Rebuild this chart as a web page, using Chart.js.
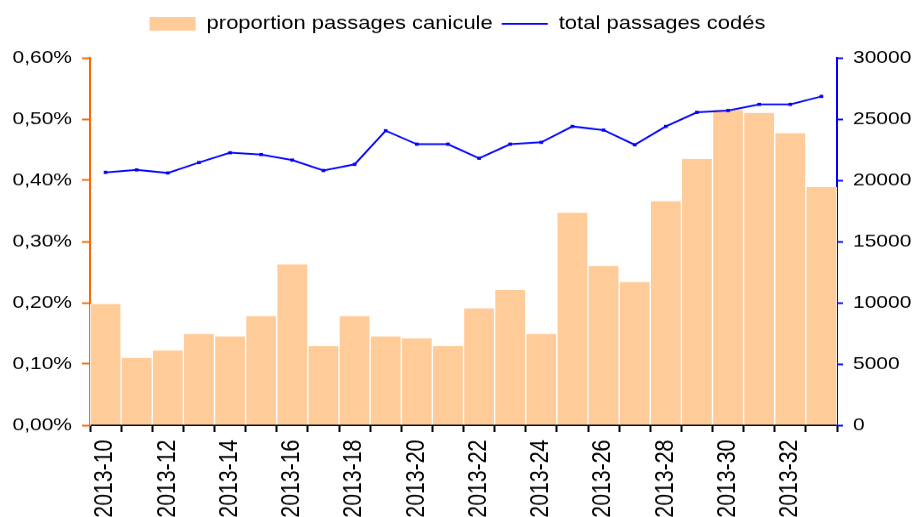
<!DOCTYPE html>
<html>
<head>
<meta charset="utf-8">
<script src="https://cdn.jsdelivr.net/npm/chart.js@4"></script>
<style>
  html, body { margin: 0; padding: 0; background: #fff; overflow: hidden; }
  #wrap { width: 915px; height: 608px; transform: scale(1, 0.85033); transform-origin: 0 0; }
</style>
</head>
<body>
<div id="wrap"><canvas id="chart" width="915" height="608"></canvas></div>
<script>
// semaines 2013-10 .. 2013-33
const weeks = ["2013-10","2013-11","2013-12","2013-13","2013-14","2013-15","2013-16","2013-17",
  "2013-18","2013-19","2013-20","2013-21","2013-22","2013-23","2013-24","2013-25",
  "2013-26","2013-27","2013-28","2013-29","2013-30","2013-31","2013-32","2013-33"];

// proportion passages canicule (en %)
const proportion = [0.198, 0.110, 0.122, 0.149, 0.145, 0.178, 0.263, 0.129, 0.178, 0.145, 0.142, 0.129,
  0.191, 0.221, 0.149, 0.347, 0.260, 0.234, 0.366, 0.435, 0.515, 0.510, 0.477, 0.389];

// total passages codés
const totalPassages = [20650, 20850, 20600, 21450, 22250, 22100, 21650, 20800, 21300, 24050, 22950, 22950,
  21800, 22950, 23100, 24400, 24100, 22900, 24400, 25550, 25700, 26200, 26200, 26850];

const leftTicks = [0, 0.1, 0.2, 0.3, 0.4, 0.5, 0.6];
const rightTicks = [0, 5000, 10000, 15000, 20000, 25000, 30000];

const orange = "#FF6600";
const blue = "#0000FF";
const font = "'Liberation Sans', Arial, sans-serif";

// espace sous la légende
const legendGap = {
  id: "legendGap",
  beforeInit(chart) {
    const fit = chart.legend.fit;
    chart.legend.fit = function () {
      fit.call(this);
      this.height += 19;
    };
  }
};

new Chart(document.getElementById("chart"), {
  type: "bar",
  data: {
    labels: weeks,
    datasets: [
      {
        type: "line",
        label: "total passages codés",
        data: totalPassages,
        yAxisID: "yR",
        borderColor: blue,
        backgroundColor: blue,
        borderWidth: 2,
        pointStyle: "rect",
        pointRadius: 2.6,
        pointBorderWidth: 0,
        tension: 0,
        order: 0
      },
      {
        label: "proportion passages canicule",
        data: proportion,
        yAxisID: "yL",
        backgroundColor: "#FFCC99",
        borderColor: "#FFFFFF",
        borderWidth: { left: 1, right: 1, top: 0, bottom: 0 },
        pointStyle: "rect",
        barPercentage: 1,
        categoryPercentage: 1,
        order: 1
      }
    ]
  },
  options: {
    responsive: false,
    animation: false,
    layout: { padding: { top: 8, left: 0, right: 0, bottom: 0 } },
    plugins: {
      tooltip: { enabled: false },
      legend: {
        position: "top",
        reverse: true,
        labels: {
          usePointStyle: true,
          pointStyleWidth: 46,
          boxHeight: 16,
          padding: 9,
          color: "#000",
          font: { family: font, size: 22 },
          generateLabels: chart => {
            const items = Chart.defaults.plugins.legend.labels.generateLabels(chart);
            items.forEach(it => {
              if (it.datasetIndex === 0) {
                it.pointStyle = "line";
                it.lineWidth = 2;
                it.strokeStyle = blue;
              } else {
                it.lineWidth = 0;
              }
            });
            return items;
          }
        }
      }
    },
    scales: {
      x: {
        offset: true,
        grid: { display: true, offset: true, drawOnChartArea: false, tickLength: 8, color: "#000", tickWidth: 2 },
        border: { color: "#000", width: 2 },
        ticks: {
          autoSkip: false,
          minRotation: 90,
          maxRotation: 90,
          padding: 9,
          color: "#000",
          font: { family: font, size: 25 },
          callback: (v, i) => (i % 2 === 0 ? weeks[i] : "")
        },
        afterFit: s => { s.height = 108; }
      },
      yL: {
        position: "left",
        min: leftTicks[0],
        max: leftTicks[leftTicks.length - 1],
        afterBuildTicks: s => { s.ticks = leftTicks.map(v => ({ value: v })); },
        grid: { drawOnChartArea: false, tickLength: 8, color: orange, tickWidth: 2 },
        border: { color: orange, width: 2 },
        ticks: {
          padding: 10,
          color: "#000",
          font: { family: font, size: 21 },
          callback: v => v.toFixed(2).replace(".", ",") + "%"
        },
        afterFit: s => { s.width = 90; }
      },
      yR: {
        position: "right",
        min: rightTicks[0],
        max: rightTicks[rightTicks.length - 1],
        afterBuildTicks: s => { s.ticks = rightTicks.map(v => ({ value: v })); },
        grid: { drawOnChartArea: false, tickLength: 6, color: blue, tickWidth: 2 },
        border: { color: blue, width: 2 },
        ticks: {
          padding: 10,
          color: "#000",
          font: { family: font, size: 21 },
          callback: v => String(v)
        },
        afterFit: s => { s.width = 78; }
      }
    }
  },
  plugins: [legendGap]
});
</script>
</body>
</html>
